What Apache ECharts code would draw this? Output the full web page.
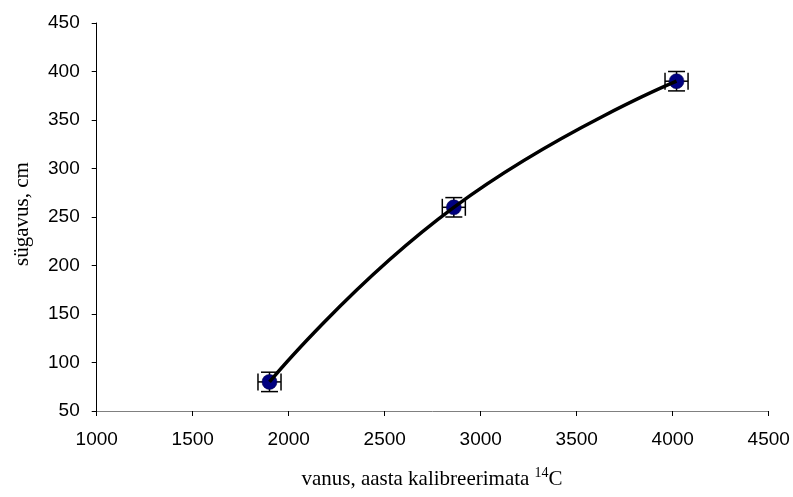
<!DOCTYPE html>
<html>
<head>
<meta charset="utf-8">
<script src="https://cdn.jsdelivr.net/npm/echarts@6/dist/echarts.min.js"></script>
<style>html,body{margin:0;padding:0;background:#fff}#c{width:793px;height:497px}</style>
</head>
<body>
<div id="c"></div>
<script>
const ages = [1900, 2860, 4020];
const depths = [80, 260, 390];
const ageErr = [60, 60, 60];
const depthErr = [10, 10, 10];
const xTitle = 'vanus, aasta kalibreerimata ';
const xTitleSup = '14';
const xTitleEnd = 'C';
const yTitle = 'sügavus, cm';

const pts = ages.map((a, i) => [a, depths[i], ageErr[i], depthErr[i]]);
const chart = echarts.init(document.getElementById('c'));
const CAP = 8.5;
chart.setOption({
  animation: false,
  grid: { left: 96.7, right: 24.3, top: 23, bottom: 86 },
  xAxis: {
    type: 'value', min: 1000, max: 4500, interval: 500,
    splitLine: { show: false },
    axisLine: { onZero: false, lineStyle: { color: '#808080', width: 1 } },
    axisTick: { inside: false, length: 5, lineStyle: { color: '#000' } },
    axisLabel: { color: '#000', fontFamily: 'Liberation Sans', fontSize: 19, margin: 19,
      formatter: v => String(v) }
  },
  yAxis: {
    type: 'value', min: 50, max: 450, interval: 50,
    splitLine: { show: false },
    axisLine: { show: true, onZero: false, lineStyle: { color: '#000', width: 1 } },
    axisTick: { show: true, length: 5, lineStyle: { color: '#000' } },
    axisLabel: { color: '#000', fontFamily: 'Liberation Sans', fontSize: 19, margin: 17,
      formatter: v => String(v) }
  },
  graphic: [
    { type: 'text', x: 22, y: 214, rotation: Math.PI / 2,
      style: { text: yTitle, font: '21px "Liberation Serif"', fill: '#000', align: 'center', verticalAlign: 'middle' } },
    { type: 'text', x: 432, y: 478,
      style: {
        text: '{a|' + xTitle + '}{s|' + xTitleSup + '}{a|' + xTitleEnd + '}',
        align: 'center', verticalAlign: 'middle',
        rich: {
          a: { font: '21px "Liberation Serif"', fill: '#000', verticalAlign: 'bottom' },
          s: { font: '14px "Liberation Serif"', fill: '#000', verticalAlign: 'top', padding: [0, 0, 9, 0] }
        }
      } }
  ],
  series: [
    {
      type: 'custom', z: 1,
      data: pts,
      renderItem: function (params, api) {
        const x = api.value(0), y = api.value(1), ex = api.value(2), ey = api.value(3);
        const l = api.coord([x - ex, y]), r = api.coord([x + ex, y]);
        const t = api.coord([x, y + ey]), b = api.coord([x, y - ey]);
        const st = { stroke: '#000', lineWidth: 1.5 };
        const line = (x1, y1, x2, y2) => ({ type: 'line', shape: { x1, y1, x2, y2 }, style: st });
        return { type: 'group', children: [
          line(l[0], l[1], r[0], r[1]),
          line(l[0], l[1] - CAP, l[0], l[1] + CAP),
          line(r[0], r[1] - CAP, r[0], r[1] + CAP),
          line(t[0], t[1], b[0], b[1]),
          line(t[0] - CAP, t[1], t[0] + CAP, t[1]),
          line(b[0] - CAP, b[1], b[0] + CAP, b[1])
        ] };
      }
    },
    {
      type: 'scatter', z: 2,
      data: pts.map(p => [p[0], p[1]]),
      symbol: 'circle', symbolSize: 15,
      itemStyle: { color: '#000080', borderColor: '#000040', borderWidth: 0.5, opacity: 1 }
    },
    {
      type: 'line', z: 3,
      data: pts.map(p => [p[0], p[1]]),
      smooth: true, showSymbol: false, symbol: 'none',
      lineStyle: { color: '#000', width: 3.5 }
    }
  ]
});
</script>
</body>
</html>
